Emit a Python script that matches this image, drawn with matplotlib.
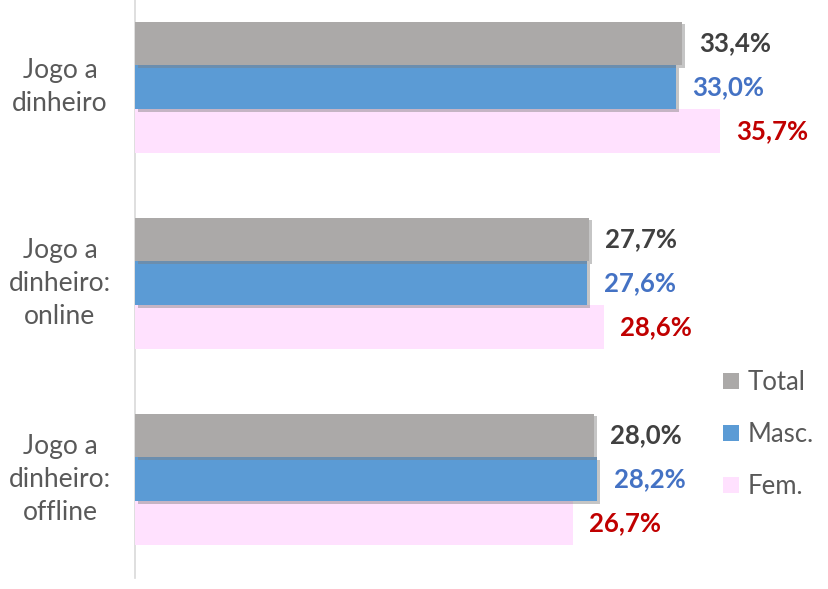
import matplotlib.pyplot as plt
import matplotlib.patheffects as pe
import numpy as np

# dados
categorias = ['Jogo a\ndinheiro', 'Jogo a\ndinheiro:\nonline', 'Jogo a\ndinheiro:\noffline']
total = [33.4, 27.7, 28.0]
masc = [33.0, 27.6, 28.2]
fem = [35.7, 28.6, 26.7]
series = ['Total', 'Masc.', 'Fem.']

cores = ['#ABA9A8', '#5B9BD5', '#FFE1FE']
cores_txt = ['#404040', '#4472C4', '#C00000']

plt.rcParams['font.family'] = ['Lato', 'DejaVu Sans']

fig = plt.figure(figsize=(8.29, 5.89), dpi=100)
ax = fig.add_axes([135/829, 11/589, 1-135/829, 578/589])

y = np.arange(len(categorias))
h = 0.224
sombra = [pe.SimplePatchShadow(offset=(2, -2), shadow_rgbFace='#7f7f7f', alpha=0.45), pe.Normal()]

for i, (vals, cor, ct) in enumerate(zip([total, masc, fem], cores, cores_txt)):
    pos = y + (i - 1) * h
    bars = ax.barh(pos, vals, height=h, color=cor, label=series[i], zorder=3 - i * 0.1)
    if i < 2:
        for b in bars:
            b.set_path_effects(sombra)
    for p, v in zip(pos, vals):
        ax.text(v + 1.0, p, f'{v:.1f}%'.replace('.', ','), va='center', ha='left',
                fontsize=18.5, fontweight='bold', color=ct)

ax.set_xlim(0, (829 - 135) / 16.39)
ax.set_ylim(2 + 0.503, -0.446)

for s in ['top', 'right', 'bottom']:
    ax.spines[s].set_visible(False)
ax.spines['left'].set_color('#D9D9D9')
ax.spines['left'].set_linewidth(1.2)
ax.set_xticks([])
ax.set_yticks(y)
ax.set_yticklabels(categorias, fontsize=19, color='#595959', linespacing=1.4, ha='center', va='center')
ax.tick_params(axis='y', length=0, pad=54)

leg = ax.legend(loc='upper left', bbox_to_anchor=(700/829, 1 - 347/589), bbox_transform=fig.transFigure,
                frameon=False, fontsize=18.5, handlelength=0.6, handleheight=0.6, handletextpad=0.35,
                labelspacing=1.05)
for t in leg.get_texts():
    t.set_color('#595959')
for hd in leg.legend_handles:
    hd.set_path_effects([])

fig.savefig('out.png', dpi=100)
